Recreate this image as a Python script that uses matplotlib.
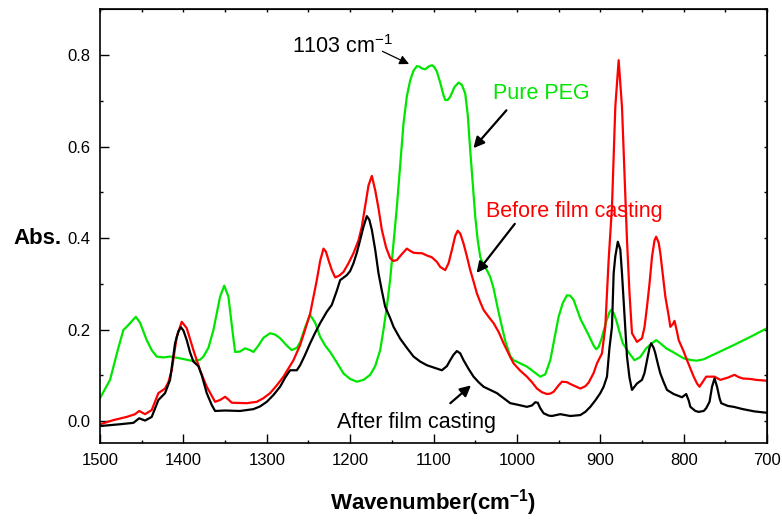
import matplotlib
matplotlib.use('Agg')
import matplotlib.pyplot as plt
from matplotlib.ticker import MultipleLocator

plt.rcParams['font.family'] = ['Liberation Sans', 'DejaVu Sans']
plt.rcParams['mathtext.fontset'] = 'custom'
plt.rcParams['mathtext.rm'] = 'Liberation Sans'
plt.rcParams['mathtext.bf'] = 'Liberation Sans:bold'
plt.rcParams['mathtext.it'] = 'Liberation Sans:italic'

# --- data (wavenumber cm-1, absorbance) ---
peg_wn = [1500, 1488, 1478, 1472, 1468, 1462, 1457, 1452, 1444, 1438, 1432, 1424, 1416, 1404, 1396,
          1388, 1380, 1376, 1370, 1364, 1360, 1356, 1351, 1346, 1342, 1338, 1332, 1326, 1320, 1316,
          1310, 1304, 1296, 1290, 1284, 1276, 1270, 1264, 1260, 1254, 1248, 1242, 1236, 1230, 1224,
          1216, 1208, 1200, 1192, 1184, 1176, 1170, 1164, 1160, 1156, 1152, 1148, 1144, 1140, 1136,
          1132, 1128, 1124, 1120, 1117, 1114, 1110, 1106, 1102, 1099, 1096, 1092, 1088, 1086, 1083,
          1080, 1075, 1070, 1066, 1062, 1059, 1056, 1053, 1050, 1047, 1044, 1040, 1036, 1032, 1028,
          1024, 1020, 1014, 1008, 1004, 996, 988, 980, 972, 966, 960, 955, 950, 945, 940,
          936, 932, 924, 914, 908, 905, 902, 899, 893, 889, 887, 884, 881, 877, 873,
          866, 859, 852, 845, 838, 833, 828, 821, 812, 800, 790, 784, 776, 769, 755,
          740, 720, 700]
peg_abs = [0.050, 0.090, 0.160, 0.199, 0.206, 0.218, 0.228, 0.215, 0.177, 0.155, 0.141, 0.139, 0.141, 0.137, 0.134,
           0.131, 0.134, 0.141, 0.160, 0.199, 0.235, 0.272, 0.296, 0.272, 0.210, 0.151, 0.152, 0.159, 0.155, 0.151,
           0.165, 0.182, 0.192, 0.189, 0.181, 0.165, 0.155, 0.160, 0.172, 0.205, 0.232, 0.215, 0.184, 0.165, 0.151,
           0.128, 0.104, 0.092, 0.086, 0.090, 0.101, 0.120, 0.155, 0.200, 0.250, 0.310, 0.390, 0.468, 0.560, 0.651,
           0.710, 0.745, 0.766, 0.776, 0.775, 0.771, 0.769, 0.775, 0.778, 0.774, 0.764, 0.740, 0.712, 0.702, 0.702,
           0.709, 0.730, 0.740, 0.735, 0.716, 0.670, 0.592, 0.520, 0.447, 0.395, 0.359, 0.340, 0.330, 0.315, 0.290,
           0.255, 0.222, 0.175, 0.142, 0.133, 0.126, 0.119, 0.108, 0.097, 0.102, 0.133, 0.180, 0.228, 0.258, 0.275,
           0.274, 0.265, 0.224, 0.188, 0.165, 0.157, 0.162, 0.177, 0.217, 0.238, 0.243, 0.236, 0.221, 0.195, 0.170,
           0.150, 0.133, 0.140, 0.159, 0.170, 0.177, 0.170, 0.159, 0.150, 0.137, 0.133, 0.132, 0.135, 0.141, 0.153,
           0.166, 0.184, 0.203]

before_wn = [1500, 1484, 1468, 1458, 1453, 1446, 1438, 1430, 1422, 1418, 1414, 1408, 1402, 1396, 1388,
             1380, 1372, 1362, 1356, 1350, 1346, 1342, 1324, 1312, 1304, 1296, 1288, 1280, 1268, 1260,
             1254, 1248, 1240, 1236, 1232, 1229, 1226, 1222, 1218, 1213, 1208, 1202, 1196, 1190, 1186,
             1182, 1178, 1174, 1170, 1166, 1162, 1157, 1152, 1148, 1144, 1138, 1132, 1128, 1124, 1118,
             1114, 1108, 1102, 1096, 1092, 1086, 1082, 1078, 1074, 1071, 1068, 1064, 1060, 1056, 1052,
             1048, 1044, 1040, 1034, 1028, 1022, 1016, 1008, 1004, 996, 988, 982, 976, 970, 964,
             960, 956, 950, 946, 940, 936, 930, 924, 918, 914, 908, 904, 898, 894, 890,
             886, 882, 878, 874, 871, 868, 865, 862, 856, 850, 847, 844, 841, 838, 835,
             833, 830, 828, 825, 822, 818, 816, 813, 811, 808, 806, 800, 796, 792, 788,
             784, 781, 777, 773, 763, 756, 747, 739, 734, 729, 720, 713, 700]
before_abs = [-0.007, 0.002, 0.009, 0.015, 0.022, 0.015, 0.024, 0.061, 0.071, 0.085, 0.111, 0.184, 0.217, 0.203, 0.155,
              0.111, 0.075, 0.042, 0.046, 0.053, 0.047, 0.040, 0.039, 0.042, 0.050, 0.061, 0.078, 0.097, 0.133, 0.166,
              0.200, 0.235, 0.308, 0.350, 0.377, 0.370, 0.352, 0.330, 0.314, 0.318, 0.326, 0.345, 0.367, 0.395, 0.425,
              0.470, 0.515, 0.536, 0.505, 0.465, 0.418, 0.380, 0.356, 0.350, 0.352, 0.365, 0.377, 0.372, 0.368, 0.367,
              0.367, 0.362, 0.358, 0.348, 0.337, 0.330, 0.345, 0.374, 0.405, 0.416, 0.410, 0.388, 0.360, 0.330, 0.305,
              0.279, 0.260, 0.243, 0.228, 0.214, 0.195, 0.170, 0.140, 0.126, 0.110, 0.097, 0.085, 0.071, 0.063, 0.059,
              0.060, 0.064, 0.078, 0.086, 0.085, 0.081, 0.076, 0.071, 0.076, 0.084, 0.105, 0.126, 0.148, 0.206, 0.352,
              0.468, 0.687, 0.789, 0.687, 0.540, 0.396, 0.280, 0.192, 0.173, 0.181, 0.205, 0.250, 0.300, 0.359, 0.395,
              0.403, 0.390, 0.367, 0.320, 0.272, 0.230, 0.206, 0.212, 0.219, 0.195, 0.177, 0.152, 0.133, 0.115, 0.097,
              0.082, 0.075, 0.086, 0.097, 0.097, 0.090, 0.095, 0.101, 0.096, 0.093, 0.092, 0.090, 0.088]

after_wn = [1500, 1476, 1460, 1453, 1446, 1438, 1430, 1422, 1416, 1410, 1406, 1403, 1400, 1396, 1392,
            1388, 1382, 1378, 1372, 1366, 1362, 1350, 1332, 1316, 1308, 1300, 1292, 1284, 1278, 1272,
            1264, 1260, 1254, 1248, 1242, 1236, 1228, 1222, 1216, 1212, 1204, 1200, 1196, 1192, 1188,
            1184, 1180, 1177, 1174, 1170, 1166, 1162, 1158, 1152, 1148, 1140, 1132, 1124, 1116, 1108,
            1098, 1090, 1084, 1080, 1076, 1072, 1068, 1064, 1058, 1052, 1046, 1040, 1032, 1024, 1016,
            1008, 1000, 988, 982, 978, 975, 972, 968, 962, 958, 948, 942, 936, 924, 918,
            912, 906, 900, 896, 892, 889, 886, 884, 882, 879, 876, 874, 871, 868, 865,
            862, 859, 856, 850, 847, 844, 841, 839, 836, 834, 831, 828, 824, 820, 812,
            802, 797, 794, 792, 786, 782, 776, 773, 769, 766, 763, 760, 757, 755, 747,
            740, 729, 715, 700]
after_abs = [-0.011, -0.007, -0.004, 0.006, 0.001, 0.009, 0.046, 0.061, 0.090, 0.170, 0.196, 0.205, 0.198, 0.177, 0.150,
             0.130, 0.120, 0.100, 0.061, 0.035, 0.022, 0.023, 0.022, 0.026, 0.032, 0.042, 0.057, 0.075, 0.095, 0.111,
             0.111, 0.122, 0.145, 0.170, 0.193, 0.214, 0.239, 0.254, 0.285, 0.308, 0.319, 0.328, 0.345, 0.368, 0.396,
             0.425, 0.448, 0.440, 0.418, 0.375, 0.323, 0.285, 0.250, 0.225, 0.206, 0.180, 0.160, 0.141, 0.130, 0.122,
             0.116, 0.111, 0.120, 0.133, 0.145, 0.153, 0.148, 0.133, 0.114, 0.097, 0.085, 0.075, 0.068, 0.061, 0.050,
             0.039, 0.036, 0.031, 0.034, 0.041, 0.040, 0.028, 0.017, 0.012, 0.011, 0.015, 0.013, 0.011, 0.013, 0.020,
             0.031, 0.045, 0.061, 0.075, 0.097, 0.160, 0.206, 0.323, 0.360, 0.392, 0.375, 0.323, 0.230, 0.141, 0.095,
             0.068, 0.075, 0.082, 0.090, 0.105, 0.133, 0.160, 0.170, 0.160, 0.148, 0.125, 0.104, 0.085, 0.068, 0.059,
             0.052, 0.059, 0.045, 0.031, 0.022, 0.020, 0.022, 0.028, 0.042, 0.075, 0.093, 0.075, 0.050, 0.039, 0.033,
             0.031, 0.026, 0.021, 0.018]

GREEN = '#00e600'
RED = '#ff0000'

fig = plt.figure(figsize=(7.82, 5.23), dpi=100)
ax = fig.add_axes([0.1279, 0.153, 0.853, 0.829])

ax.plot(peg_wn, peg_abs, color=GREEN, lw=1.6)
ax.plot(before_wn, before_abs, color=RED, lw=1.6)
ax.plot(after_wn, after_abs, color='black', lw=1.6)

ax.set_xlim(1500, 700)
ax.set_ylim(-0.048, 0.90)

ax.xaxis.set_major_locator(MultipleLocator(100))
ax.xaxis.set_minor_locator(MultipleLocator(50))
ax.yaxis.set_major_locator(MultipleLocator(0.2))
ax.yaxis.set_minor_locator(MultipleLocator(0.1))
ax.yaxis.set_major_formatter(plt.FuncFormatter(lambda v, p: '{:.1f}'.format(v)))

ax.tick_params(which='major', direction='in', length=6.5, width=1.0, labelsize=12, pad=7,
               top=False, right=False)
ax.tick_params(which='minor', direction='in', length=2.2, width=1.0, top=False, right=False)
for sp in ax.spines.values():
    sp.set_linewidth(1.2)

# small inward ticks on top and right spines
secx = ax.secondary_xaxis('top')
secx.xaxis.set_major_locator(MultipleLocator(50))
secx.tick_params(direction='in', length=2.2, width=1.0, labeltop=False)
secy = ax.secondary_yaxis('right')
secy.yaxis.set_major_locator(MultipleLocator(0.1))
secy.tick_params(direction='in', length=2.2, width=1.0, labelright=False)

ax.set_xlabel(r'Wavenumber(cm$^{\mathbf{-1}}$)', fontsize=16, fontweight='bold', labelpad=14)
fig.text(13 / 782, 1 - 239 / 523, 'Abs.', fontsize=16, fontweight='bold', ha='left', va='center')

# labels and arrows
ax.text(1270, 0.804, r'1103 cm$^{-1}$', fontsize=15.5, ha='left', va='baseline')
ax.annotate('', xy=(1126.4, 0.778), xytext=(1164.3, 0.811),
            arrowprops=dict(arrowstyle='-|>', color='black', lw=0.9, mutation_scale=14))

ax.text(1029, 0.705, 'Pure PEG', fontsize=15.5, color=GREEN, ha='left', va='baseline')
ax.annotate('', xy=(1054.4, 0.592), xytext=(1010.4, 0.684),
            arrowprops=dict(arrowstyle='-|>', color='black', lw=1.6, mutation_scale=16))

ax.text(1037, 0.447, 'Before film casting', fontsize=15.5, color=RED, ha='left', va='baseline')
ax.annotate('', xy=(1050.4, 0.319), xytext=(1000.5, 0.436),
            arrowprops=dict(arrowstyle='-|>', color='black', lw=1.6, mutation_scale=16))

ax.text(1215.5, -0.016, 'After film casting', fontsize=15.5, color='black', ha='left', va='baseline')
ax.annotate('', xy=(1052.5, 0.082), xytext=(1082.4, 0.035),
            arrowprops=dict(arrowstyle='-|>', color='black', lw=1.6, mutation_scale=16))

fig.savefig('out.png', dpi=100)
